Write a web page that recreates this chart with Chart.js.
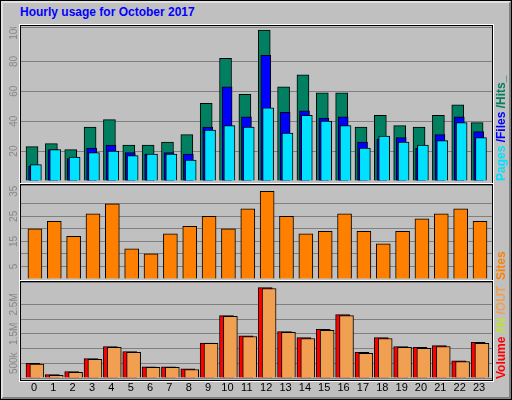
<!DOCTYPE html>
<html><head><meta charset="utf-8">
<script src="https://cdn.jsdelivr.net/npm/chart.js@4"></script>
<style>
body{margin:0;background:#c0c0c0;}
#wrap{position:relative;width:510px;height:398px;background:#c0c0c0;border:1px solid #000;overflow:hidden}
#wrap:after{content:"";position:absolute;left:0;top:0;width:506px;height:394px;border:2px solid #e0e0e0;border-right-color:#808080;border-bottom-color:#808080;pointer-events:none}
canvas{position:absolute;left:0}
.fr{position:absolute;left:19px;width:471px;border:1px solid #000;outline:1px solid #fff}
.t{position:absolute;font:bold 12px Arial,"Liberation Sans",sans-serif;color:#0000ff}
.rl{position:absolute;font:bold 12px Arial,"Liberation Sans",sans-serif;transform:rotate(-90deg);transform-origin:left top;white-space:nowrap}
</style></head><body>
<div id="wrap">
<div class="t" style="left:19px;top:4px">Hourly usage for October 2017</div>
<div class="fr" style="top:24px;height:158px"></div>
<div class="fr" style="top:183px;height:96px"></div>
<div class="fr" style="top:280px;height:98px"></div>
<canvas id="c1" width="512" height="154" style="top:26px"></canvas>
<canvas id="c2" width="512" height="94" style="top:184px"></canvas>
<canvas id="c3" width="512" height="119" style="top:281px"></canvas>
<div class="rl" style="left:493px;top:180px"><span style="color:#00e0ff">Pages</span><span style="color:#0000ff"> /Files</span><span style="color:#008060"> /Hits_</span></div>
<div class="rl" style="left:493px;top:279px"><span style="color:#ff8000">Sites</span></div>
<div class="rl" style="left:493px;top:378px"><span style="color:#ff0000">Volume</span><span style="color:#c0e040"> /IN</span><span style="color:#f0a050"> /OUT</span></div>
</div>
<script>
const hours=[0,1,2,3,4,5,6,7,8,9,10,11,12,13,14,15,16,17,18,19,20,21,22,23];
const hits=[23,25,21,36,41,24,24,26,31,52,82,58,101,63,71,59,59,36,44,37,36,44,51,39];
const files=[10,21,15,22,24,19,18,19,18,36,63,43,84,46,47,42,43,26,28,29,22,31,43,33];
const pages=[11,21,16,19,20,17,18,18,14,34,37,36,49,32,44,40,37,22,30,26,24,27,39,29];
const sites=[20,23,17,26,30,12,10,18,21,25,20,28,35,25,18,19,26,19,14,19,24,26,28,23];
const volIn=[0.50,0.12,0.22,0.66,1.07,0.90,0.38,0.38,0.31,1.19,2.12,1.43,3.07,1.58,1.37,1.65,2.15,0.87,1.37,1.07,1.04,1.10,0.58,1.21];
const volOut=[0.47,0.09,0.19,0.63,1.04,0.87,0.36,0.36,0.29,1.18,2.09,1.41,3.04,1.55,1.34,1.62,2.12,0.84,1.34,1.04,1.01,1.07,0.56,1.18];
const top1Labels=[20,40,60,80,100],mid2Labels=[5,15,25,35],bot3Labels=[[0.5,'500k'],[1.5,'1.5M'],[2.5,'2.5M']];
const F='Arial,"Liberation Sans",sans-serif';
function pts(arr,off){return arr.map((v,i)=>({x:hours[i]+off,y:v}));}
function ds(arr,off,color,w){return {data:pts(arr,off),grouped:false,backgroundColor:color,borderColor:'#000',borderWidth:1,barThickness:w,borderSkipped:'bottom'};}
function ylab(list){return {id:'yl',afterDraw(c){const ctx=c.ctx,s=c.scales.y;ctx.save();ctx.fillStyle='#888';ctx.font='10px '+F;ctx.textAlign='center';ctx.textBaseline='middle';
 list.forEach(l=>{const v=Array.isArray(l)?l[0]:l,t=Array.isArray(l)?l[1]:String(l);ctx.save();ctx.translate(13,s.getPixelForValue(v));ctx.rotate(-Math.PI/2);ctx.fillText(t,0,0);ctx.restore();});ctx.restore();}};}
const xlab={id:'xl',afterDraw(c){const ctx=c.ctx,s=c.scales.x;ctx.save();ctx.fillStyle='#000';ctx.font='11px '+F;ctx.textAlign='center';ctx.textBaseline='middle';
 hours.forEach(h=>ctx.fillText(String(h),s.getPixelForValue(h),c.chartArea.bottom+10));ctx.restore();}};
function opts(max,step,pb){return {responsive:false,animation:false,events:[],layout:{padding:{left:20,right:21,top:0,bottom:pb}},
 plugins:{legend:{display:false},tooltip:{enabled:false}},
 scales:{x:{type:'linear',min:-0.67,max:23.67,display:false,offset:false},
  y:{min:0,max:max,ticks:{display:false,stepSize:step},border:{display:false},grid:{color:'#808080',drawTicks:false},afterFit(s){s.width=0;}}}};}
new Chart(document.getElementById('c1'),{type:'bar',data:{datasets:[ds(pages,0.1,'#00e0ff',11),ds(files,-0.02,'#0000ff',10),ds(hits,-0.1,'#008060',12)]},options:opts(103,20,0),plugins:[ylab(top1Labels)]});
new Chart(document.getElementById('c2'),{type:'bar',data:{datasets:[ds(sites,0.05,'#ff8000',14)]},options:opts(37.5,5,0),plugins:[ylab(mid2Labels)]});
new Chart(document.getElementById('c3'),{type:'bar',data:{datasets:[ds(volOut,0.15,'#f0a050',14),ds(volIn,-0.05,'#ff0000',14)]},options:opts(3.26,0.5,23),plugins:[ylab(bot3Labels),xlab]});
</script></body></html>
